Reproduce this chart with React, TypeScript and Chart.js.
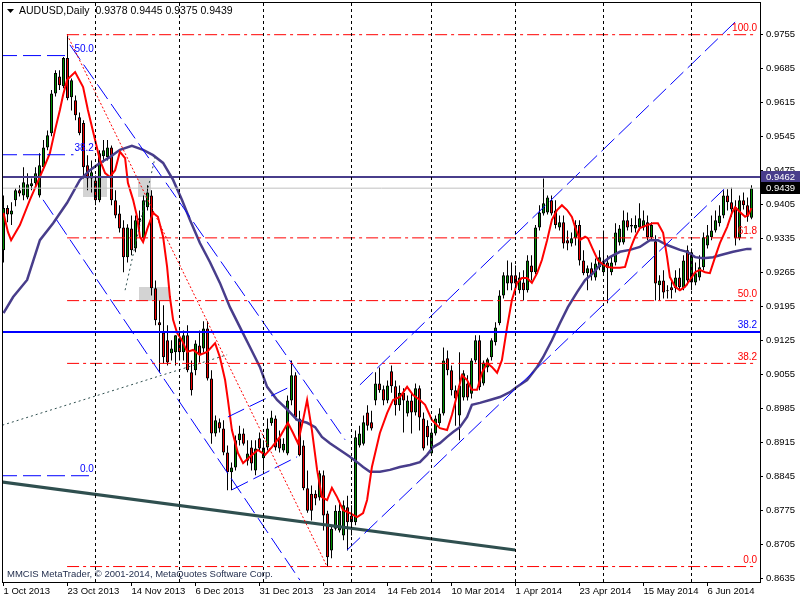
import React, { useEffect, useRef } from "react";
import { Chart, registerables } from "chart.js";

Chart.register(...registerables);

const FONT = '"Liberation Sans", Arial, sans-serif';

// ---------------- data ----------------
const symbolTitle = "AUDUSD,Daily";

const opens = [
  0.9311,0.9398,0.9385,0.9414,0.9435,0.9424,0.9420,0.9443,0.9449,0.9424,
  0.9482,0.9523,0.9552,0.9634,0.9669,0.9649,0.9707,0.9626,0.9620,0.9585,
  0.9573,0.9486,0.9459,0.9455,0.9414,0.9505,0.9503,0.9523,0.9414,0.9387,
  0.9358,0.9297,0.9356,0.9315,0.9373,0.9336,0.9400,0.9424,0.9233,0.9163,
  0.9142,0.9126,0.9099,0.9101,0.9130,0.9101,0.9136,0.9060,0.9064,0.9115,
  0.9109,0.9150,0.9047,0.8934,0.8957,0.8944,0.8895,0.8854,0.8864,0.8920,
  0.8934,0.8878,0.8905,0.8858,0.8924,0.8883,0.8905,0.8955,0.8965,0.8924,
  0.8899,0.8893,0.9002,0.9054,0.8965,0.8909,0.8821,0.8810,0.8810,0.8802,
  0.8848,0.8769,0.8693,0.8738,0.8734,0.8724,0.8782,0.8765,0.8751,0.8909,
  0.8913,0.8977,0.8957,0.9002,0.9037,0.9025,0.9002,0.9062,0.9031,0.8992,
  0.9018,0.8975,0.9002,0.8977,0.9027,0.8965,0.8950,0.8893,0.8934,0.8955,
  0.8975,0.9089,0.9064,0.9023,0.8971,0.9008,0.9037,0.9016,0.9084,0.9126,
  0.9037,0.9070,0.9091,0.9122,0.9161,0.9218,0.9243,0.9260,0.9260,0.9229,
  0.9245,0.9229,0.9280,0.9266,0.9358,0.9387,0.9389,0.9414,0.9393,0.9358,
  0.9369,0.9332,0.9325,0.9336,0.9363,0.9290,0.9264,0.9274,0.9255,0.9276,
  0.9266,0.9286,0.9266,0.9286,0.9327,0.9327,0.9373,0.9363,0.9356,0.9358,
  0.9358,0.9369,0.9338,0.9330,0.9239,0.9249,0.9229,0.9235,0.9233,0.9255,
  0.9233,0.9311,0.9245,0.9245,0.9255,0.9276,0.9321,0.9338,0.9352,0.9367,
  0.9383,0.9424,0.9410,0.9400,0.9336,0.9414,0.9404,0.9378,
];
const highs = [
  0.9424,0.9404,0.9410,0.9439,0.9445,0.9482,0.9470,0.9459,0.9482,0.9511,
  0.9538,0.9558,0.9641,0.9682,0.9682,0.9709,0.9756,0.9665,0.9630,0.9595,
  0.9579,0.9507,0.9496,0.9465,0.9517,0.9538,0.9538,0.9527,0.9435,0.9404,
  0.9373,0.9365,0.9383,0.9383,0.9393,0.9424,0.9445,0.9435,0.9249,0.9208,
  0.9198,0.9157,0.9126,0.9136,0.9146,0.9146,0.9157,0.9084,0.9126,0.9146,
  0.9165,0.9165,0.9064,0.8971,0.8965,0.8961,0.8909,0.8874,0.8930,0.8950,
  0.8944,0.8920,0.8920,0.8920,0.8936,0.8920,0.8965,0.8981,0.8971,0.8940,
  0.8924,0.9012,0.9084,0.9060,0.8981,0.8920,0.8858,0.8827,0.8817,0.8858,
  0.8858,0.8775,0.8745,0.8786,0.8796,0.8796,0.8806,0.8786,0.8940,0.8950,
  0.8971,0.8992,0.8981,0.9060,0.9070,0.9033,0.9043,0.9074,0.9043,0.9033,
  0.9027,0.9012,0.9018,0.9037,0.9033,0.8977,0.8961,0.8944,0.8971,0.8986,
  0.9111,0.9105,0.9074,0.9033,0.9101,0.9064,0.9054,0.9089,0.9136,0.9136,
  0.9084,0.9090,0.9130,0.9163,0.9229,0.9266,0.9290,0.9286,0.9280,0.9266,
  0.9270,0.9301,0.9301,0.9363,0.9404,0.9459,0.9424,0.9424,0.9414,0.9383,
  0.9383,0.9352,0.9348,0.9373,0.9373,0.9311,0.9280,0.9286,0.9294,0.9311,
  0.9352,0.9301,0.9301,0.9367,0.9363,0.9393,0.9389,0.9377,0.9383,0.9408,
  0.9393,0.9383,0.9369,0.9342,0.9260,0.9270,0.9239,0.9249,0.9270,0.9274,
  0.9301,0.9321,0.9315,0.9286,0.9301,0.9348,0.9363,0.9383,0.9393,0.9404,
  0.9435,0.9437,0.9440,0.9414,0.9424,0.9430,0.9420,0.9445,
];
const lows = [
  0.9286,0.9369,0.9363,0.9402,0.9422,0.9414,0.9416,0.9435,0.9443,0.9420,
  0.9476,0.9517,0.9546,0.9628,0.9641,0.9645,0.9620,0.9599,0.9579,0.9548,
  0.9459,0.9435,0.9430,0.9404,0.9410,0.9492,0.9496,0.9404,0.9377,0.9348,
  0.9266,0.9286,0.9301,0.9307,0.9352,0.9332,0.9393,0.9218,0.9157,0.9060,
  0.9078,0.9074,0.9084,0.9074,0.9084,0.9084,0.9060,0.9012,0.9054,0.9080,
  0.9101,0.9043,0.8913,0.8928,0.8936,0.8889,0.8817,0.8817,0.8858,0.8909,
  0.8909,0.8868,0.8858,0.8848,0.8899,0.8858,0.8899,0.8950,0.8899,0.8895,
  0.8895,0.8889,0.8992,0.8961,0.8887,0.8817,0.8771,0.8755,0.8786,0.8796,
  0.8734,0.8660,0.8677,0.8734,0.8730,0.8714,0.8693,0.8724,0.8745,0.8905,
  0.8909,0.8940,0.8940,0.8992,0.9018,0.8992,0.8996,0.9018,0.8971,0.8981,
  0.8936,0.8969,0.8934,0.8971,0.8940,0.8899,0.8909,0.8889,0.8930,0.8950,
  0.8971,0.9054,0.9012,0.8950,0.8920,0.9002,0.9002,0.9006,0.9080,0.9023,
  0.9033,0.9060,0.9084,0.9115,0.9157,0.9212,0.9229,0.9229,0.9218,0.9222,
  0.9208,0.9224,0.9249,0.9262,0.9352,0.9383,0.9385,0.9383,0.9356,0.9352,
  0.9315,0.9311,0.9319,0.9321,0.9280,0.9260,0.9229,0.9249,0.9249,0.9270,
  0.9260,0.9202,0.9260,0.9280,0.9321,0.9323,0.9352,0.9348,0.9348,0.9352,
  0.9352,0.9332,0.9332,0.9208,0.9208,0.9212,0.9212,0.9212,0.9224,0.9229,
  0.9229,0.9239,0.9229,0.9239,0.9249,0.9270,0.9315,0.9332,0.9348,0.9360,
  0.9377,0.9393,0.9380,0.9321,0.9332,0.9395,0.9370,0.9375,
];
const closes = [
  0.9398,0.9385,0.9393,0.9435,0.9428,0.9451,0.9447,0.9449,0.9470,0.9486,
  0.9523,0.9548,0.9634,0.9676,0.9651,0.9707,0.9624,0.9661,0.9589,0.9552,
  0.9482,0.9459,0.9472,0.9414,0.9511,0.9517,0.9523,0.9414,0.9383,0.9356,
  0.9297,0.9358,0.9311,0.9373,0.9377,0.9414,0.9430,0.9233,0.9167,0.9157,
  0.9091,0.9080,0.9109,0.9136,0.9101,0.9136,0.9064,0.9023,0.9119,0.9095,
  0.9150,0.9047,0.8934,0.8961,0.8944,0.8895,0.8854,0.8864,0.8920,0.8934,
  0.8913,0.8893,0.8872,0.8903,0.8903,0.8905,0.8944,0.8967,0.8905,0.8903,
  0.8913,0.9002,0.9054,0.8967,0.8889,0.8821,0.8775,0.8775,0.8800,0.8852,
  0.8765,0.8679,0.8738,0.8775,0.8775,0.8786,0.8751,0.8751,0.8926,0.8934,
  0.8957,0.8950,0.8944,0.9037,0.9023,0.9002,0.9033,0.9031,0.8992,0.9018,
  0.9002,0.9002,0.8977,0.9027,0.8967,0.8903,0.8926,0.8936,0.8965,0.8975,
  0.9084,0.9064,0.9023,0.9006,0.9033,0.9058,0.9008,0.9084,0.9126,0.9029,
  0.9080,0.9087,0.9126,0.9152,0.9218,0.9260,0.9260,0.9243,0.9243,0.9255,
  0.9229,0.9290,0.9266,0.9358,0.9389,0.9408,0.9420,0.9387,0.9363,0.9369,
  0.9325,0.9325,0.9336,0.9363,0.9290,0.9264,0.9274,0.9260,0.9284,0.9297,
  0.9290,0.9274,0.9286,0.9348,0.9356,0.9373,0.9358,0.9360,0.9363,0.9377,
  0.9373,0.9338,0.9363,0.9243,0.9249,0.9224,0.9227,0.9229,0.9255,0.9235,
  0.9290,0.9249,0.9307,0.9264,0.9276,0.9338,0.9342,0.9352,0.9373,0.9383,
  0.9424,0.9410,0.9395,0.9336,0.9414,0.9404,0.9380,0.9439,
];

// fast (red) moving average, read as [bar, price]
const fastMa = [
  [0,0.9388],[1.1,0.9349],[1.9,0.9332],[4.1,0.9363],[6.6,0.9415],[10.4,0.9487],[11.6,0.9511],[12.9,0.9559],
  [14.1,0.9600],[14.9,0.9631],[15.9,0.9662],[17.9,0.9678],[19.9,0.9647],[21.1,0.9600],[22.9,0.9538],[24.1,0.9497],
  [25.4,0.9470],[26.6,0.9462],[27.9,0.9476],[29.1,0.9514],[30.4,0.9501],[31.1,0.9450],[32.4,0.9415],[33.4,0.9380],
  [34.1,0.9339],[34.9,0.9328],[36.1,0.9359],[37.4,0.9388],[38.6,0.9380],[39.9,0.9339],[40.9,0.9277],[41.6,0.9215],
  [42.4,0.9168],[43.4,0.9141],[44.6,0.9126],[45.9,0.9102],[47.4,0.9106],[49.1,0.9096],[50.9,0.9102],[52.9,0.9120],
  [54.1,0.9091],[55.4,0.9044],[56.1,0.9003],[57.1,0.8941],[58.6,0.8894],[59.9,0.8873],[61.6,0.8886],[63.6,0.8900],
  [65.4,0.8890],[67.1,0.8906],[69.1,0.8927],[71.1,0.8956],[72.4,0.8935],[73.6,0.8914],[74.9,0.8962],[75.9,0.9003],
  [77.1,0.8941],[78.4,0.8859],[79.6,0.8803],[80.9,0.8797],[82.1,0.8822],[83.4,0.8803],[84.9,0.8776],[86.6,0.8770],
  [88.4,0.8762],[89.9,0.8770],[90.9,0.8797],[92.1,0.8865],[94.1,0.8935],[95.9,0.8976],[97.4,0.9003],[99.1,0.9009],
  [100.9,0.9030],[102.4,0.9013],[104.1,0.9003],[105.4,0.8993],[107.1,0.8962],[109.1,0.8945],[110.9,0.8941],[112.1,0.8972],
  [113.4,0.9013],[114.6,0.9054],[115.9,0.9044],[117.1,0.9024],[118.4,0.9024],[119.6,0.9059],[120.9,0.9079],[122.1,0.9071],
  [123.4,0.9059],[124.6,0.9085],[125.9,0.9153],[127.1,0.9209],[128.4,0.9244],[129.6,0.9254],[130.9,0.9254],[132.1,0.9244],
  [133.4,0.9264],[134.6,0.9291],[135.9,0.9332],[137.1,0.9374],[138.4,0.9394],[139.6,0.9404],[140.9,0.9394],[142.1,0.9380],
  [142.9,0.9359],[144.1,0.9332],[145.4,0.9339],[146.1,0.9336],[147.4,0.9312],[148.6,0.9291],[149.1,0.9287],[150.9,0.9277],
  [152.4,0.9275],[154.1,0.9275],[155.4,0.9277],[156.6,0.9312],[157.9,0.9339],[159.1,0.9357],[160.9,0.9363],[162.4,0.9367],
  [163.6,0.9367],[164.9,0.9347],[165.9,0.9297],[166.6,0.9256],[167.9,0.9236],[169.1,0.9229],[170.4,0.9236],[171.6,0.9250],
  [172.9,0.9266],[174.1,0.9271],[175.4,0.9266],[176.6,0.9264],[177.9,0.9297],[179.1,0.9326],[180.9,0.9359],[182.1,0.9388],
  [182.9,0.9400],[184.1,0.9390],[185.4,0.9380],[186.2,0.9384],[187,0.9398],
];

// slow (dark slate blue) moving average, read as [bar, price]
const slowMa = [
  [0,0.9182],[2.4,0.9215],[5.9,0.9250],[9.1,0.9332],[12.4,0.9367],[15.9,0.9409],[19.1,0.9456],[21.6,0.9476],
  [24.1,0.9491],[26.6,0.9503],[29.1,0.9518],[32.1,0.9526],[34.9,0.9518],[37.4,0.9507],[39.9,0.9491],[42.4,0.9456],
  [44.6,0.9415],[46.6,0.9374],[49.1,0.9326],[51.6,0.9287],[54.1,0.9244],[56.6,0.9194],[59.1,0.9153],[61.6,0.9112],
  [64.1,0.9071],[65.9,0.9030],[68.4,0.9003],[71.1,0.8982],[73.4,0.8962],[75.9,0.8956],[77.9,0.8947],[79.6,0.8927],
  [81.6,0.8914],[84.1,0.8900],[86.6,0.8886],[88.4,0.8875],[89.9,0.8865],[91.6,0.8855],[94.1,0.8855],[96.6,0.8859],
  [99.1,0.8865],[101.6,0.8869],[104.1,0.8875],[105.9,0.8890],[107.4,0.8906],[109.1,0.8914],[110.9,0.8927],[112.4,0.8937],
  [114.1,0.8947],[115.9,0.8968],[117.1,0.8993],[119.1,0.8997],[121.6,0.9003],[124.1,0.9009],[126.6,0.9019],[128.4,0.9030],
  [130.9,0.9044],[133.4,0.9071],[134.9,0.9091],[137.1,0.9126],[139.1,0.9161],[141.1,0.9194],[143.4,0.9225],[145.4,0.9250],
  [147.4,0.9264],[149.1,0.9281],[151.6,0.9297],[154.1,0.9308],[156.6,0.9312],[159.1,0.9318],[161.6,0.9332],[163.6,0.9332],
  [165.9,0.9322],[169.1,0.9312],[170.9,0.9308],[172.9,0.9297],[174.9,0.9295],[177.4,0.9297],[179.1,0.9301],[182.4,0.9308],
  [185.9,0.9314],[187,0.9314],
];

// axes
const xTickBars = [0, 16, 32, 48, 64, 80, 96, 112, 128, 144, 160, 176];
const xTickLabels = [
  "1 Oct 2013", "23 Oct 2013", "14 Nov 2013", "6 Dec 2013", "31 Dec 2013", "23 Jan 2014",
  "14 Feb 2014", "10 Mar 2014", "1 Apr 2014", "23 Apr 2014", "15 May 2014", "6 Jun 2014",
];
const yTicks = [
  0.9755, 0.9685, 0.9615, 0.9545, 0.9475, 0.9405, 0.9335, 0.9265, 0.9195,
  0.9125, 0.9055, 0.8985, 0.8915, 0.8845, 0.8775, 0.8705, 0.8635,
];
const xMin = -0.125;
const xMax = 189.125;
const yMin = 0.86282;
const yMax = 0.982026;

// drawn objects
const monthSeparatorBars = [23, 44, 65, 87, 107, 128, 150, 172];

const redFibLevels = [100, 61.8, 50, 38.2, 0];
const redFibHigh = 0.9755;
const redFibLow = 0.866;
const redFibFromBar = 15.9;
const redFibToBar = 188.4;

const blueFibLevels = [50, 38.2, 0];
const blueFibLineEnds = [16, 17.5, 22.5];
const blueFibZero = 0.8847;
const blueFibFull = 1.0577;
const blueFibLabelBar = 22.6;

const blueLevelPrice = 0.9143;
const blueLevelText = "38.2";
const resistancePrice = 0.9462;

const peakToLow = [[15.9, 0.9755], [80.9, 0.866]];
const downChannelUpper = [[16.6, 0.9734], [85.4, 0.8921]];
const downChannelLower = [[9.9, 0.9415], [74.1, 0.8632]];
const decChannelUpper = [[56.1, 0.8968], [71.6, 0.903]];
const decChannelLower = [[57.1, 0.8818], [73.4, 0.8886]];
const upChannelUpper = [[89.1, 0.9034], [183.4, 0.9785]];
const upChannelLower = [[85.9, 0.8694], [180.4, 0.9439]];
const supportLine = [[-0.3, 0.8834], [127.9, 0.8694]];
const dottedLong = [[-0.3, 0.8951], [55.9, 0.9096]];
const dottedSteep = [[30.4, 0.9229], [37.9, 0.9503]];

const grayBoxes = [
  [19.9, 0.946, 25.9, 0.9421],
  [33.6, 0.946, 36.9, 0.9421],
  [33.9, 0.9235, 41.4, 0.9207],
];

const copyrightText = "MMCIS MetaTrader, \u00a9 2001-2014, MetaQuotes Software Corp.";

// ---------------- chart ----------------
const fibPrice = (lo: number, hi: number, lvl: number) => lo + ((hi - lo) * lvl) / 100;

const overlayPlugin = {
  id: "mt4Overlay",
  beforeDatasetsDraw(chart: any) {
    const { ctx, chartArea: a, scales } = chart;
    const x = scales.x;
    const y = scales.y;
    ctx.save();
    ctx.beginPath();
    ctx.rect(a.left, a.top, a.right - a.left, a.bottom - a.top);
    ctx.clip();
    ctx.fillStyle = "#D3D3D3";
    for (const [b1, p1, b2, p2] of grayBoxes) {
      const x1 = Math.round(x.getPixelForValue(b1));
      const x2 = Math.round(x.getPixelForValue(b2));
      const y1 = Math.round(y.getPixelForValue(p1));
      const y2 = Math.round(y.getPixelForValue(p2));
      ctx.fillRect(x1, y1, x2 - x1, y2 - y1);
    }
    ctx.restore();
  },
  afterDatasetsDraw(chart: any) {
    const { ctx, chartArea: a, scales } = chart;
    const x = scales.x;
    const y = scales.y;
    ctx.save();
    ctx.beginPath();
    ctx.rect(a.left, a.top, a.right - a.left, a.bottom - a.top);
    ctx.clip();
    // month separators
    ctx.strokeStyle = "#000";
    ctx.lineWidth = 1;
    ctx.setLineDash([3, 3]);
    for (const b of monthSeparatorBars) {
      const px = Math.floor(x.getPixelForValue(b)) + 0.5;
      ctx.beginPath();
      ctx.moveTo(px, a.top);
      ctx.lineTo(px, a.bottom);
      ctx.stroke();
    }
    ctx.setLineDash([]);
    // labels
    ctx.font = `10px ${FONT}`;
    ctx.textBaseline = "bottom";
    ctx.textAlign = "right";
    ctx.fillStyle = "#FF0000";
    const rx = x.getPixelForValue(redFibToBar);
    for (const lvl of redFibLevels) {
      const py = y.getPixelForValue(fibPrice(redFibLow, redFibHigh, lvl));
      ctx.fillText(lvl.toFixed(1), rx, py - 1.5);
    }
    ctx.fillStyle = "#0000FF";
    ctx.fillText(blueLevelText, rx, y.getPixelForValue(blueLevelPrice) - 1.5);
    const bx = x.getPixelForValue(blueFibLabelBar);
    for (const lvl of blueFibLevels) {
      const py = y.getPixelForValue(fibPrice(blueFibZero, blueFibFull, lvl));
      ctx.fillText(lvl.toFixed(1), bx, py - 1.5);
    }
    ctx.restore();
  },
  afterDraw(chart: any) {
    const { ctx, chartArea: a, scales } = chart;
    const y = scales.y;
    ctx.save();
    // frame
    ctx.strokeStyle = "#000";
    ctx.lineWidth = 1;
    ctx.strokeRect(a.left - 0.5, a.top - 0.5, a.right - a.left + 1, a.bottom - a.top + 1);
    // price boxes
    ctx.font = `9.5px ${FONT}`;
    ctx.textAlign = "left";
    ctx.textBaseline = "middle";
    const box = (price: number, bg: string) => {
      const py = Math.round(y.getPixelForValue(price));
      ctx.fillStyle = bg;
      ctx.fillRect(a.right + 1, py - 6, chart.width - a.right - 1, 12);
      ctx.fillStyle = "#FFFFFF";
      ctx.fillText(price.toFixed(4), a.right + 6, py + 0.5);
    };
    box(resistancePrice, "#483D8B");
    box(closes[closes.length - 1], "#000000");
    // header
    ctx.fillStyle = "#000";
    ctx.beginPath();
    ctx.moveTo(7, 9);
    ctx.lineTo(14, 9);
    ctx.lineTo(10.5, 13);
    ctx.closePath();
    ctx.fill();
    const last = closes.length - 1;
    const header = `${symbolTitle}  ${opens[last].toFixed(4)} ${highs[last].toFixed(4)} ${lows[last].toFixed(4)} ${closes[last].toFixed(4)}`;
    ctx.font = `10.5px ${FONT}`;
    ctx.fillText(header, 19, 11);
    // copyright
    ctx.font = `9.5px ${FONT}`;
    ctx.fillStyle = "#1E2A4A";
    ctx.fillText(copyrightText, 7, 574);
    ctx.restore();
  },
};

export default function App() {
  const ref = useRef<HTMLCanvasElement>(null);

  useEffect(() => {
    const canvas = ref.current;
    if (!canvas) return;

    const seg = (pts: number[][], color: string, width: number, dash: number[] = []) => ({
      type: "line",
      data: pts.map(([b, p]) => ({ x: b, y: p })),
      borderColor: color,
      borderWidth: width,
      borderDash: dash,
      borderCapStyle: "butt",
      pointRadius: 0,
      pointHoverRadius: 0,
      fill: false,
      tension: 0,
    });

    const objectSets: any[] = [];
    for (const lvl of redFibLevels) {
      const p = fibPrice(redFibLow, redFibHigh, lvl);
      objectSets.push(seg([[redFibFromBar, p], [redFibToBar, p]], "#FF0000", 1, [12, 4, 3, 4]));
    }
    blueFibLevels.forEach((lvl, i) => {
      const p = fibPrice(blueFibZero, blueFibFull, lvl);
      objectSets.push(seg([[xMin - 1, p], [blueFibLineEnds[i], p]], "#0000FF", 1, [18, 6]));
    });
    objectSets.push(seg([[xMin - 1, blueLevelPrice], [xMax + 1, blueLevelPrice]], "#0000FF", 2));
    objectSets.push(seg([[xMin - 1, resistancePrice], [xMax + 1, resistancePrice]], "#483D8B", 2));
    objectSets.push(seg([[xMin - 1, closes[closes.length - 1]], [xMax + 1, closes[closes.length - 1]]], "#C0C0C0", 1));
    objectSets.push(seg(peakToLow, "#FF0000", 1, [2, 2]));
    objectSets.push(seg(downChannelUpper, "#0000FF", 1, [18, 6]));
    objectSets.push(seg(downChannelLower, "#0000FF", 1, [18, 6]));
    objectSets.push(seg(decChannelUpper, "#0000FF", 1, [18, 6]));
    objectSets.push(seg(decChannelLower, "#0000FF", 1, [18, 6]));
    objectSets.push(seg(upChannelUpper, "#0000FF", 1, [18, 6]));
    objectSets.push(seg(upChannelLower, "#0000FF", 1, [18, 6]));
    objectSets.push(seg(supportLine, "#2F4F4F", 3));
    objectSets.push(seg(dottedLong, "#2F4F4F", 1, [2, 3]));
    objectSets.push(seg(dottedSteep, "#2F4F4F", 1, [2, 3]));

    const maSets = [
      seg(fastMa, "#FF0000", 2),
      seg(slowMa, "#483D8B", 2.5),
    ];

    const bodies = {
      type: "bar",
      data: opens.map((o, i) => ({ x: i, y: [o, closes[i]] })),
      backgroundColor: opens.map((o, i) => (closes[i] >= o ? "#008C00" : "#F00000")),
      borderColor: "#000000",
      borderWidth: 1,
      borderSkipped: false,
      barThickness: 3,
      minBarLength: 1,
      grouped: false,
      inflateAmount: 0,
    };
    const wicks = {
      type: "bar",
      data: lows.map((l, i) => ({ x: i, y: [l, highs[i]] })),
      backgroundColor: "#000000",
      borderWidth: 0,
      barThickness: 1,
      minBarLength: 1,
      grouped: false,
      inflateAmount: 0,
    };

    const chart = new Chart(canvas, {
      type: "bar",
      data: { datasets: [...objectSets, ...maSets, bodies, wicks] as any },
      options: {
        responsive: false,
        animation: false,
        devicePixelRatio: 1,
        events: [],
        layout: { padding: { left: 3, top: 3, right: 0, bottom: 0 } },
        plugins: { legend: { display: false }, tooltip: { enabled: false } },
        scales: {
          x: {
            type: "linear",
            min: xMin,
            max: xMax,
            offset: false,
            bounds: "data",
            grid: { offset: false, drawOnChartArea: false, drawTicks: true, tickLength: 4, color: "#000", lineWidth: 1 },
            border: { display: false },
            ticks: {
              autoSkip: false,
              maxRotation: 0,
              minRotation: 0,
              align: "start",
              padding: 0,
              color: "#000",
              font: { family: FONT, size: 9.5 },
              callback: (_v: any, i: number) => xTickLabels[i] ?? "",
            },
            afterBuildTicks: (s: any) => {
              s.ticks = xTickBars.map((v) => ({ value: v }));
            },
            afterFit: (s: any) => {
              s.height = 18;
              s.paddingLeft = 0;
              s.paddingRight = 0;
            },
          },
          y: {
            type: "linear",
            position: "right",
            min: yMin,
            max: yMax,
            bounds: "data",
            beginAtZero: false,
            grid: { drawOnChartArea: false, drawTicks: true, tickLength: 3, color: "#000", lineWidth: 1 },
            border: { display: false },
            ticks: {
              autoSkip: false,
              padding: 3,
              color: "#000",
              font: { family: FONT, size: 9.5 },
              callback: (v: any) => Number(v).toFixed(4),
            },
            afterBuildTicks: (s: any) => {
              s.ticks = yTicks.map((v) => ({ value: v }));
            },
            afterFit: (s: any) => {
              s.width = 40;
              s.paddingTop = 0;
              s.paddingBottom = 0;
            },
          },
        } as any,
      },
      plugins: [overlayPlugin],
    } as any);

    return () => chart.destroy();
  }, []);

  return (
    <div style={{ position: "absolute", left: 0, top: 0, width: 800, height: 600, background: "#fff" }}>
      <canvas ref={ref} width={800} height={600} style={{ display: "block", width: 800, height: 600 }} />
    </div>
  );
}
